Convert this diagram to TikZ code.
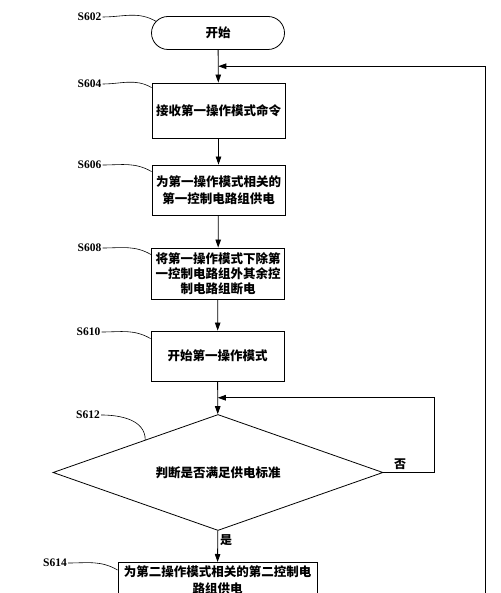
\documentclass[tikz,border=0pt]{standalone}
\usepackage{fontspec}
\setmainfont{Liberation Serif}
\newfontfamily\cjk{Noto Sans CJK SC}
\usetikzlibrary{arrows.meta,positioning,shapes.geometric,calc}

\begin{document}
\begin{tikzpicture}[x=1pt,y=1pt,>={Triangle[length=8pt,width=5.5pt]},line width=0.8pt,
    box/.style={draw,fill=white,minimum width=133pt,align=center,inner sep=2pt,
                font=\cjk\bfseries\fontsize{12.5}{17}\selectfont},
    term/.style={box,rounded corners=16.5pt,minimum height=33pt},
    dia/.style={draw,diamond,aspect=2.85,minimum width=330pt,minimum height=116pt,
                inner sep=0pt,font=\cjk\bfseries\fontsize{12.5}{15}\selectfont},
    stepno/.style={font=\bfseries\fontsize{11.5}{13}\selectfont,inner sep=1pt},
    tag/.style={font=\cjk\bfseries\fontsize{12}{14}\selectfont,inner sep=2pt},
    lead/.style={line width=0.6pt}]
    \useasboundingbox (0,0) rectangle (500,593);
    \clip (0,0) rectangle (500,593);
    % flow boxes
    \node[term] (start) at (218,560) {开始};
    \node[box,minimum height=55pt] (recv) at (218.5,482.5) {接收第一操作模式命令};
    \node[box,minimum height=50pt] (supply1) at (218.5,403) {为第一操作模式相关的\\第一控制电路组供电};
    \node[box,minimum height=51pt,font=\cjk\bfseries\fontsize{12.5}{15}\selectfont] (cut) at (218,319.5)
        {将第一操作模式下除第\\一控制电路组外其余控\\制电路组断电};
    \node[box,minimum height=50pt] (mode1) at (217.5,237) {开始第一操作模式};
    \node[dia] (check) at (218,120.5) {判断是否满足供电标准};
    \node[box,minimum width=199pt,anchor=north,inner ysep=3pt] (supply2) at (217.5,31)
        {为第二操作模式相关的第二控制电\\路组供电};
    % step numbers
    \node[stepno] (s602) at (89.5,576) {S602};
    \node[stepno] (s604) at (89.5,509) {S604};
    \node[stepno] (s606) at (89.5,428) {S606};
    \node[stepno] (s608) at (89.5,345) {S608};
    \node[stepno] (s610) at (88.5,261) {S610};
    \node[stepno] (s612) at (88,178) {S612};
    \node[stepno] (s614) at (55,30) {S614};
    \draw[lead] (s602.east) to[out=0,in=150] ($(start.west)+(4.8,11.7)$);
    \draw[lead] (s604.east) to[out=0,in=150] ($(recv.north west)+(0,-5)$);
    \draw[lead] (s606.east) to[out=0,in=150] ($(supply1.north west)+(0,-7)$);
    \draw[lead] (s608.east) to[out=0,in=150] ($(cut.north west)+(0,-7)$);
    \draw[lead] (s610.east) to[out=0,in=150] ($(mode1.north west)+(0,-8)$);
    \draw[lead] (s612.east) to[out=0,in=90] ($(check.north)!0.44!(check.west)$);
    \draw[lead] (s614.east) to[out=0,in=150] ($(supply2.north west)+(0,-8)$);
    % connectors
    \coordinate (j1) at ($(start.south)!0.5!(recv.north)$);
    \coordinate (j2) at ($(mode1.south)!0.5!(check.north)$);
    \coordinate (back) at (485,-20);
    \draw[->] (start) -- (recv);
    \draw[->] (recv) -- (supply1);
    \draw[->] (supply1) -- (cut);
    \draw[->] (cut) -- (mode1);
    \draw[->] (mode1) -- (check);
    \draw[->] (check) -- node[tag,right,pos=0.3] {是} (supply2);
    \draw[->] (check.east) -- node[tag,above,pos=0.33] {否} ++(51,0) |- (j2);
    \draw[->] (back) |- (j1);
\end{tikzpicture}
\end{document}
